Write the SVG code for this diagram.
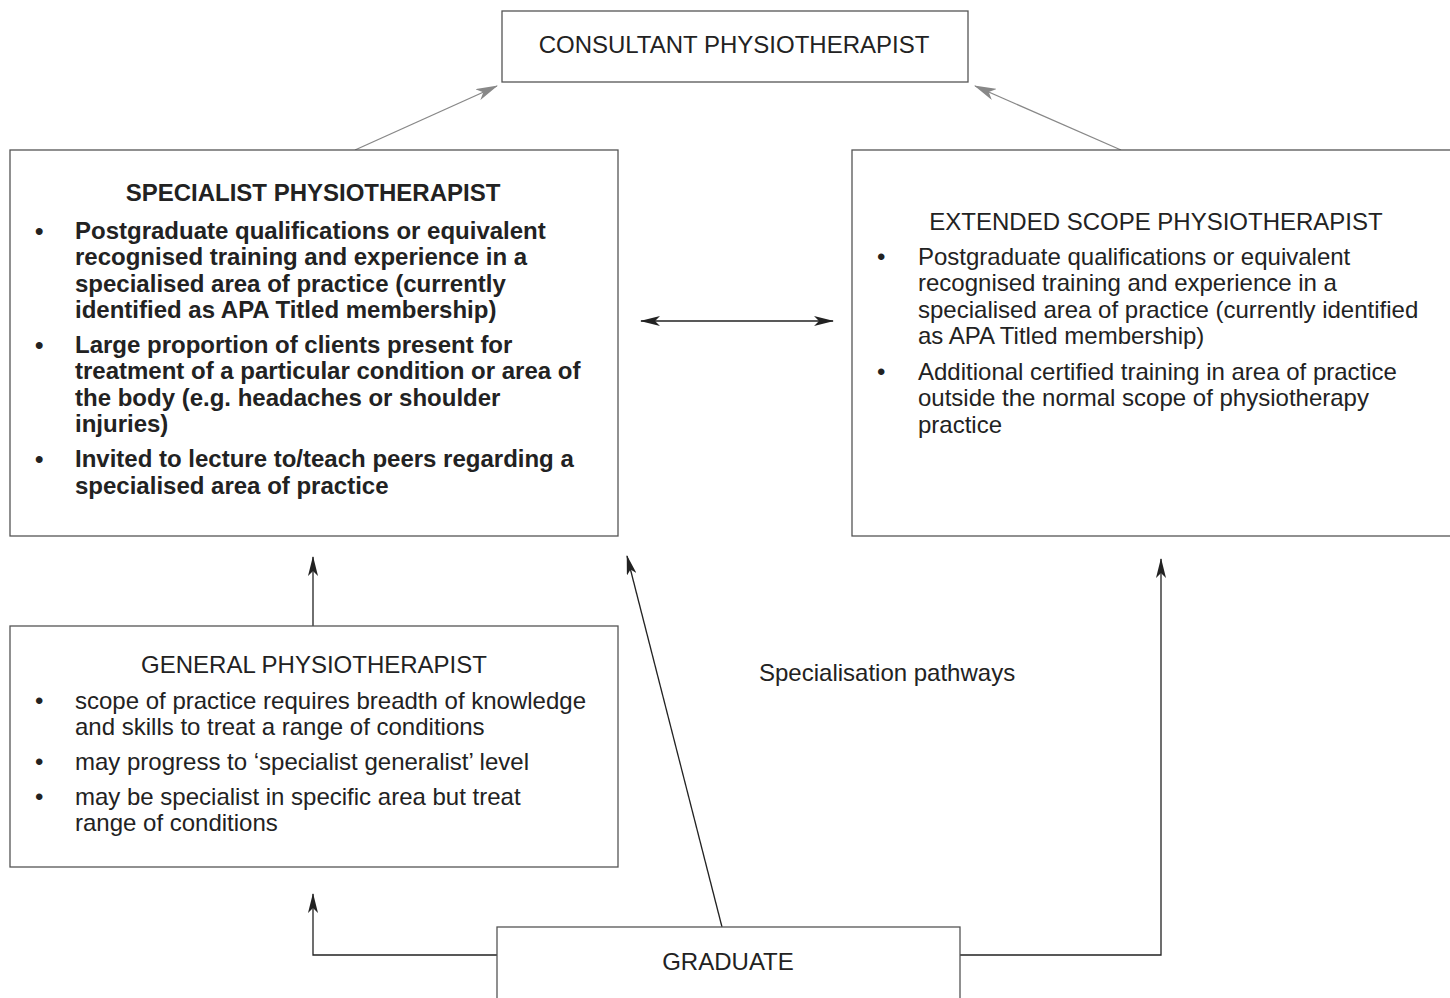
<svg xmlns="http://www.w3.org/2000/svg" width="1450" height="998" viewBox="0 0 1450 998">
<defs>
<style>
.box{fill:#fff;stroke:#555;stroke-width:1.3}
.t{font-family:"Liberation Sans",Arial,sans-serif;font-size:24px;fill:#222}
.b{font-weight:bold}
.mid{text-anchor:middle}
.c{fill:none;stroke:#222;stroke-width:1.3}
.g{fill:none;stroke:#888;stroke-width:1.3}
</style>
<marker id="ah" viewBox="0 0 20 10" refX="19" refY="5" markerWidth="20" markerHeight="10" markerUnits="userSpaceOnUse" orient="auto-start-reverse"><path d="M0,0 L20,5 L0,10 L5,5 Z" fill="#222"/></marker>
<marker id="ahg" viewBox="0 0 22 12" refX="21" refY="6" markerWidth="22" markerHeight="12" markerUnits="userSpaceOnUse" orient="auto"><path d="M0,0 L22,6 L0,12 L6,6 Z" fill="#888"/></marker>
</defs>
<rect width="1450" height="998" fill="#fff"/>
<g id="connectors">
<line class="g" x1="355" y1="150" x2="497" y2="86" marker-end="url(#ahg)"/>
<line class="g" x1="1121" y1="150" x2="975" y2="86" marker-end="url(#ahg)"/>
<line class="c" x1="641" y1="321" x2="833" y2="321" marker-start="url(#ah)" marker-end="url(#ah)"/>
<line class="c" x1="313" y1="626" x2="313" y2="557" marker-end="url(#ah)"/>
<polyline class="c" points="497,955 313,955 313,894" marker-end="url(#ah)"/>
<line class="c" x1="722" y1="927" x2="627" y2="556" marker-end="url(#ah)"/>
<polyline class="c" points="960,955 1161,955 1161,559" marker-end="url(#ah)"/>
</g>
<g id="consultant">
<rect class="box" x="502" y="11" width="466" height="71"/>
<text class="t mid" x="734" y="53">CONSULTANT PHYSIOTHERAPIST</text>
</g>
<g id="specialist">
<rect class="box" x="10" y="150" width="608" height="386"/>
<text class="t b mid" x="313" y="201">SPECIALIST PHYSIOTHERAPIST</text>
<g class="t b">
<text x="35" y="239">•</text>
<text x="75" y="239">Postgraduate qualifications or equivalent</text>
<text x="75" y="265">recognised training and experience in a</text>
<text x="75" y="292">specialised area of practice (currently</text>
<text x="75" y="318">identified as APA Titled membership)</text>
<text x="35" y="353">•</text>
<text x="75" y="353">Large proportion of clients present for</text>
<text x="75" y="379">treatment of a particular condition or area of</text>
<text x="75" y="406">the body (e.g. headaches or shoulder</text>
<text x="75" y="432">injuries)</text>
<text x="35" y="467">•</text>
<text x="75" y="467">Invited to lecture to/teach peers regarding a</text>
<text x="75" y="494">specialised area of practice</text>
</g>
</g>
<g id="extended">
<rect class="box" x="852" y="150" width="610" height="386"/>
<text class="t mid" x="1156" y="230">EXTENDED SCOPE PHYSIOTHERAPIST</text>
<g class="t">
<text x="877" y="265">•</text>
<text x="918" y="265">Postgraduate qualifications or equivalent</text>
<text x="918" y="291">recognised training and experience in a</text>
<text x="918" y="318">specialised area of practice (currently identified</text>
<text x="918" y="344">as APA Titled membership)</text>
<text x="877" y="380">•</text>
<text x="918" y="380">Additional certified training in area of practice</text>
<text x="918" y="406">outside the normal scope of physiotherapy</text>
<text x="918" y="433">practice</text>
</g>
</g>
<g id="general">
<rect class="box" x="10" y="626" width="608" height="241"/>
<text class="t mid" x="314" y="673">GENERAL PHYSIOTHERAPIST</text>
<g class="t">
<text x="35" y="709">•</text>
<text x="75" y="709">scope of practice requires breadth of knowledge</text>
<text x="75" y="735">and skills to treat a range of conditions</text>
<text x="35" y="770">•</text>
<text x="75" y="770">may progress to ‘specialist generalist’ level</text>
<text x="35" y="805">•</text>
<text x="75" y="805">may be specialist in specific area but treat</text>
<text x="75" y="831">range of conditions</text>
</g>
</g>
<g id="graduate">
<rect class="box" x="497" y="927" width="463" height="80"/>
<text class="t mid" x="728" y="970">GRADUATE</text>
</g>
<g id="label">
<text class="t" x="759" y="681">Specialisation pathways</text>
</g>
</svg>
